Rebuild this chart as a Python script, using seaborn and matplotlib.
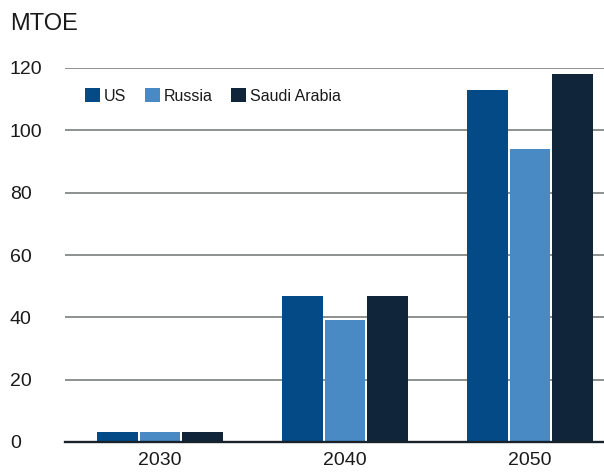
import matplotlib
matplotlib.use("Agg")
import matplotlib.pyplot as plt
import seaborn as sns
import pandas as pd

years = ["2030", "2040", "2050"]
countries = ["US", "Russia", "Saudi Arabia"]
us = [3.3, 47, 113]
russia = [3.3, 39, 94]
saudi = [3.3, 47, 118]
yticks = [0, 20, 40, 60, 80, 100, 120]
colors = ["#034A87", "#4A8AC4", "#10243A"]

rows = []
for c, vals in zip(countries, [us, russia, saudi]):
    for y, v in zip(years, vals):
        rows.append({"year": y, "country": c, "value": v})
df = pd.DataFrame(rows)

sns.set_theme(style="white")
plt.rcParams["font.family"] = ["Liberation Sans", "DejaVu Sans"]
txt = "#1a1a1a"

fig = plt.figure(figsize=(6.04, 4.74), dpi=100)
W, H = 604, 474
ax = fig.add_axes([65 / W, 1 - 442 / H, (604 - 65) / W, (442 - 68) / H])

sns.barplot(data=df, x="year", y="value", hue="country", palette=colors,
            width=0.69, gap=0.05, saturation=1, ax=ax, zorder=3,
            linewidth=0, edgecolor="none")

ax.set_xlim(-0.514, 2.4)
ax.set_ylim(0, 120)
ax.set_yticks(yticks)
ax.set_yticklabels([str(t) for t in yticks])
ax.set_xlabel("")
ax.set_ylabel("")

ax.grid(axis="y", color="#7a7f7b", linewidth=1.2, zorder=0)
ax.grid(axis="x", visible=False)
for s in ["top", "right", "left"]:
    ax.spines[s].set_visible(False)
ax.spines["bottom"].set_color("#18222a")
ax.spines["bottom"].set_linewidth(1.7)
ax.spines["bottom"].set_zorder(5)

ax.tick_params(axis="y", length=0, pad=39.6, labelsize=14, labelcolor=txt)
ax.tick_params(axis="x", length=0, pad=7, labelsize=14, labelcolor=txt)
for lab in ax.get_yticklabels():
    lab.set_horizontalalignment("left")

handles, labels = ax.get_legend_handles_labels()
ax.legend(handles, labels, ncol=3, frameon=False, fontsize=11.5,
          loc="center left", bbox_to_anchor=(85 / W, 1 - 96 / H),
          bbox_transform=fig.transFigure, borderpad=0, borderaxespad=0,
          handlelength=0.95, handleheight=0.95, handletextpad=0.25,
          columnspacing=1.15, labelcolor=txt)

fig.text(10 / W, 1 - 24 / H, "MTOE", fontsize=17, color=txt,
         ha="left", va="center")

fig.savefig("out.png", dpi=100)
